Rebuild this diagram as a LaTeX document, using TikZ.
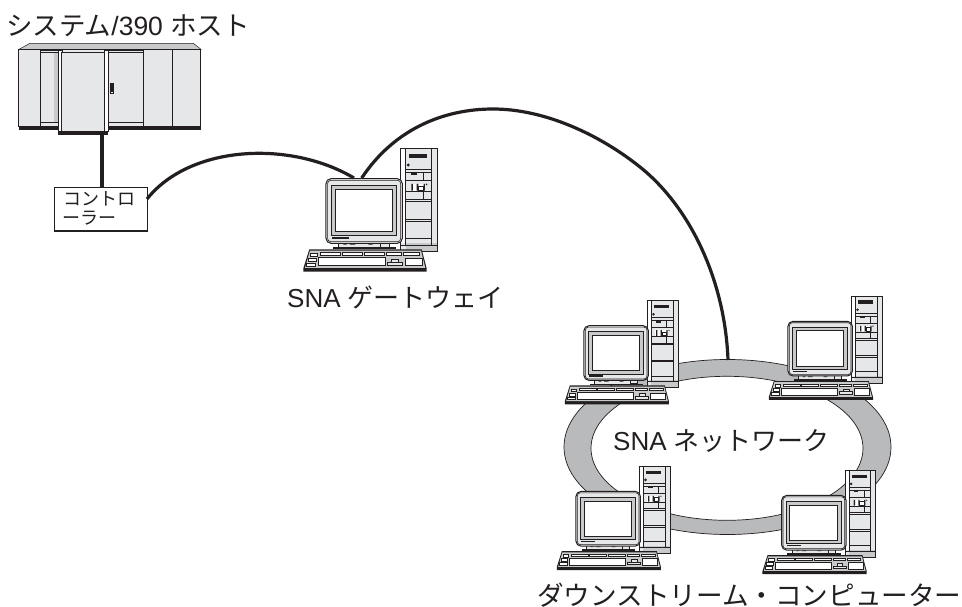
\documentclass[tikz,border=0pt]{standalone}
\usepackage{fontspec}
\setmainfont{Liberation Sans}
\newfontfamily\jp{Noto Sans CJK JP}
\definecolor{panel}{HTML}{E6E7E8}
\definecolor{midgray}{HTML}{C8C9CA}
\definecolor{ringgray}{HTML}{B9BABC}
\definecolor{ink}{HTML}{231F20}
\tikzset{
  thinline/.style={draw=ink,line width=0.6pt},
  medline/.style={draw=ink,line width=1pt},
  link/.style={draw=ink,line width=3.2pt},
  caption/.style={inner sep=0pt,text=ink,font=\fontsize{26}{30}\selectfont,anchor=west},
  boxtext/.style={inner sep=0pt,anchor=west,text=ink,font=\jp\fontsize{18}{21}\selectfont},
}
\newcommand{\pccomputer}[3]{%
\begin{scope}[shift={(#1,#2)},x=#3pt,y=-#3pt]
  % tower
  \fill[panel] (333,57) rectangle (443,365);
  \fill[midgray] (347,340) rectangle (443,365);
  \fill[white] (333,57) rectangle (347,340);
  \draw[medline] (333,57) rectangle (443,365);
  \draw[thinline] (347,57) -- (347,345) (424,57) -- (424,345) (333,345) -- (443,345);
  \draw[medline] (347,118) -- (424,118) (347,128) -- (424,128) (347,152) -- (424,152) (347,208) -- (424,208)
     (347,268) -- (424,268) (347,325) -- (424,325);
  \draw[thinline] (347,213) -- (424,213) (347,274) -- (424,274) (347,185) -- (424,185) (400,128) -- (400,152) (400,185) -- (400,208);
  \fill[ink] (357,72) rectangle (410,84);
  \fill[ink] (355,105) circle (5);
  \fill[ink] (364,128) rectangle (380,135);
  \fill[white] (362,162) rectangle (405,182);
  \fill[ink] (364,162) rectangle (369,182) (380,162) rectangle (385,182) (401,162) rectangle (405,182);
  \draw[thinline] (385,168) rectangle (401,180);
  \fill[ink] (410,163) circle (2.5);
  % monitor
  \fill[panel,draw=ink,line width=0.5pt] (145,338) rectangle (298,354);
  \fill[ink] (128,352) rectangle (317,358);
  \fill[ink] (160,341) rectangle (170,344) (180,341) rectangle (196,344) (235,341) rectangle (248,344);
  \draw[thinline] (272,338) rectangle (298,352);
  \draw[medline,fill=panel,rounded corners=5pt] (108,146) rectangle (337,340);
  \draw[thinline,rounded corners=3pt] (113,151) rectangle (332,335);
  \draw[medline,fill=midgray] (125,167) rectangle (320,318);
  \draw[medline,fill=white] (137,180) rectangle (307,305);
  \fill[ink] (126,321) rectangle (177,327);
  % keyboard
  \fill[ink] (58,358) -- (395,358) -- (410,415) -- (410,425) -- (40,425) -- (40,415) -- cycle;
  \fill[midgray] (60,362) -- (393,362) -- (406,414) -- (45,414) -- cycle;
  \draw[thinline,fill=white] (85,383) rectangle (285,407);
  \draw[thinline,fill=white] (345,385) rectangle (398,407);
  \draw[thinline,fill=white] (92,368) rectangle (152,377) (157,368) rectangle (217,377) (223,368) rectangle (283,377) (290,368) rectangle (333,377) (340,368) rectangle (388,377);
  \draw[thinline,fill=white] (62,370) rectangle (82,380) (55,385) rectangle (78,395) (50,399) rectangle (76,408);
  \draw[thinline,fill=panel] (305,387) rectangle (325,396) (292,396) rectangle (338,406);
\end{scope}}
\begin{document}
\begin{tikzpicture}[x=1pt,y=-1pt]
\useasboundingbox (0,0) rectangle (962,607);
\fill[white] (0,0) rectangle (962,607);
% ring
\fill[ringgray,even odd rule,draw=ink,line width=0.7pt] (727.5,447) ellipse [x radius=163.5,y radius=87.5] (727,448.3) ellipse [x radius=136,y radius=72];
\coordinate (ringtop) at (728,360);
% mainframe
\begin{scope}[x=0.3333pt,y=-0.3333pt]
  \fill[midgray,draw=ink,line width=0.5pt] (57,148) -- (90,130) -- (580,130) -- (603,148) -- cycle;
  \draw[medline,fill=panel] (57,148) rectangle (603,380);
  \draw[medline] (122,148) -- (122,380) (430,148) -- (430,380) (517,148) -- (517,380);
  \fill[midgray] (163,158) rectangle (176,368);
  \draw[thinline] (122,158) -- (176,158) (122,368) -- (176,368) (325,158) -- (430,158) (325,368) -- (430,368) (122,150) -- (190,150) (325,150) -- (430,150);
  \fill[ink] (57,380) rectangle (603,389);
  \fill[white,draw=ink,line width=0.6pt] (176,150) -- (186,150) -- (186,395) -- (176,395) -- cycle;
  \fill[white,draw=ink,line width=0.6pt] (313,150) -- (325,150) -- (325,395) -- (313,395) -- cycle;
  \draw[medline,fill=panel] (186,158) rectangle (313,395);
  \fill[ink] (175,395) -- (325,395) -- (325,405) -- (175,405) -- cycle;
  \draw[medline,fill=panel] (331,250) rectangle (342,280);
  \fill[ink] (334,253) rectangle (339,277);
  \coordinate (hostbase) at (307,405);
\end{scope}
% controller
\node[draw=ink,line width=1pt,fill=white,minimum width=93pt,minimum height=43pt,inner sep=0pt,outer sep=0pt] (ctrl) at (100.5,209.5) {};
\node[boxtext] (ctrl1) at (63,199) {コントロ};
\node[boxtext] (ctrl2) at (62,218) {ーラー};
% computers
\pccomputer{290}{130}{0.3333}
\pccomputer{553.5}{284.6}{0.2817}
\pccomputer{757.5}{280.2}{0.2817}
\pccomputer{545.5}{450.3}{0.2817}
\pccomputer{751.2}{454.3}{0.2817}
\coordinate (gwa) at (354,178);
\coordinate (gwb) at (361.7,178);
% connectors
\draw[link,line width=3.8pt] (hostbase) -- (ctrl.north -| hostbase);
\draw[link] (ctrl.north east |- 0,199) .. controls (190,145) and (290,140) .. (gwa);
\draw[link] (gwb) .. controls (395,128) and (445,109) .. (493,109) .. controls (545,109) and (600,135) .. (640,167) .. controls (690,207) and (725,280) .. (ringtop);
% labels
\node[caption,font=\fontsize{26.5}{30}\selectfont] (host) at (6,26) {\jp システム\rmfamily/390 \jp ホスト};
\node[caption] (gate) at (287,297) {SNA \jp ゲートウェイ};
\node[caption] (net) at (613,441) {SNA \jp ネットワーク};
\node[caption,font=\fontsize{26.6}{30}\selectfont] (down) at (537,595) {\jp ダウンストリーム・コンピューター};
\end{tikzpicture}
\end{document}
